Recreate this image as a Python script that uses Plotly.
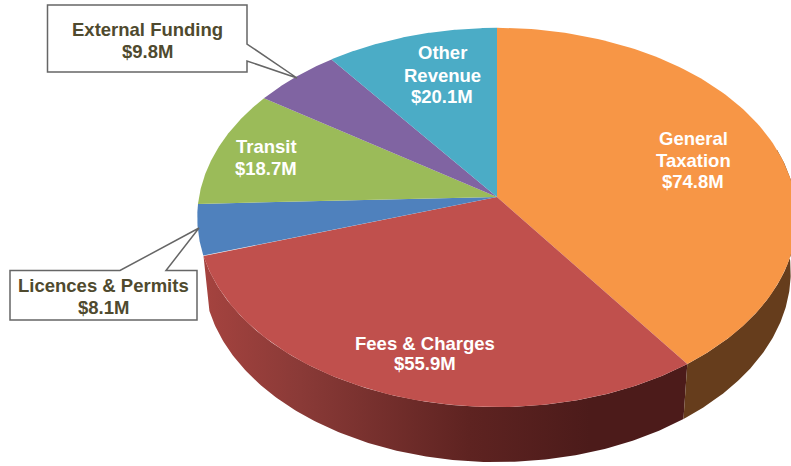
import numpy as np
import plotly.graph_objects as go

# --- data ---
categories = ["General Taxation", "Fees & Charges", "Licences & Permits", "Transit", "External Funding", "Other Revenue"]
values = [74.8, 55.9, 8.1, 18.7, 9.8, 20.1]
top_colors = ["#F79646", "#C0504D", "#4F81BD", "#9BBB59", "#8064A2", "#4BACC6"]
label_lines = [["General", "Taxation", "$74.8M"], ["Fees & Charges", "$55.9M"], ["Licences & Permits", "$8.1M"],
               ["Transit", "$18.7M"], ["External Funding", "$9.8M"], ["Other", "Revenue", "$20.1M"]]

# --- projection of the pie circle (pixels of the 791x466 page) ---
CX, CY, R, R_BOTTOM, A, K, DEPTH = 497.0, 197.0, 298.0, 292.0, 187.4, -0.108, 55.0
# the drawn slices run very slightly wide of their printed shares
SWEEP = 361.7

def project(deg, radius=R, drop=0.0):
    t = np.radians(deg)
    v = -np.cos(t)
    d = 1 + K * v
    return CX + radius * np.sin(t) / d, CY + drop + A * v / d

total = sum(values)
edges = np.minimum(np.concatenate([[0], np.cumsum(values) / total * SWEEP]), 360)

fig = go.Figure()

# side walls
def wall(a0, a1, scale):
    t = np.linspace(a0, a1, 160)
    x, y = project(t)
    xb, yb = project(t, R_BOTTOM, DEPTH)
    fig.add_trace(go.Scatter(
        x=np.concatenate([x, xb[::-1]]), y=np.concatenate([y, yb[::-1]]),
        mode="lines", line=dict(width=0), fill="toself", hoverinfo="skip", showlegend=False,
        fillcolor="#663D1C" if scale is None else None,
        fillgradient=None if scale is None else dict(type="horizontal", colorscale=scale)))

wall(edges[1], edges[2], [[0, "#A5433F"], [0.2, "#8A3A37"], [0.55, "#5E2321"], [0.8, "#4C1B1A"], [1, "#4C1B1A"]])
wall(75, edges[1], None)

# top faces
for i, (name, color) in enumerate(zip(categories, top_colors)):
    x, y = project(np.linspace(edges[i], edges[i + 1], 120))
    fig.add_trace(go.Scatter(
        x=np.concatenate([[CX], x, [CX]]), y=np.concatenate([[CY], y, [CY]]),
        mode="lines", line=dict(width=0), fill="toself", fillcolor=color,
        name=name, hoverinfo="name", showlegend=False))

# labels: centre x and the y of each line
label_pos = {0: (693, [138, 160, 181]), 1: (425, [343, 363]), 3: (266, [146, 168]), 5: (442, [52, 75, 96]),
             4: (147.5, [29, 51]), 2: (103.5, [285, 307])}
for i, (lx, ys) in label_pos.items():
    color = "#4F4A2E" if i in (2, 4) else "white"
    for txt, ly in zip(label_lines[i], ys):
        fig.add_annotation(x=lx, y=ly, text="<b>" + txt + "</b>", showarrow=False,
                           font=dict(family="Liberation Sans", size=18.5, color=color),
                           xanchor="center", yanchor="middle")

line = dict(color="#666666", width=1.5)
shapes = [
    dict(type="path", path="M47.5,5 L247,5 L247,44 L297,78 L247,61 L247,72 L47.5,72 Z",
         fillcolor="white", line=line, layer="above"),
    dict(type="path", path="M10,270.5 L120,270.5 L199,228 L166,270.5 L197,270.5 L197,320 L10,320 Z",
         fillcolor="white", line=line, layer="above"),
]

fig.update_layout(
    width=791, height=466, margin=dict(l=0, r=0, t=0, b=0), autosize=False,
    paper_bgcolor="white", plot_bgcolor="white", showlegend=False, shapes=shapes,
    xaxis=dict(range=[0, 791], visible=False, fixedrange=True),
    yaxis=dict(range=[466, 0], visible=False, fixedrange=True),
)
fig.write_html("out.html", config={"displayModeBar": False},
               post_script="document.body.style.margin='0';document.body.style.overflow='hidden';")
